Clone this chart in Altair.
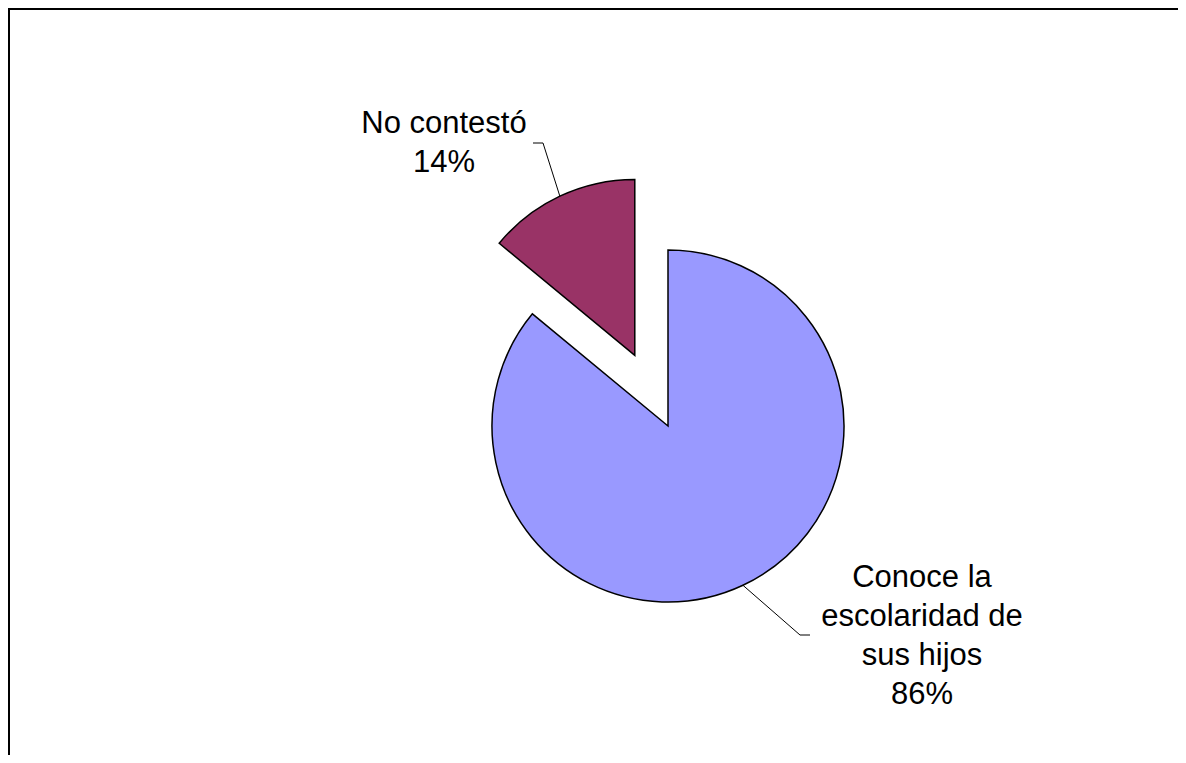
import math
import altair as alt
import pandas as pd

# ---- data ----
categories = ["Conoce la escolaridad de sus hijos", "No contestó"]
values = [86, 14]
label_lines = [["Conoce la", "escolaridad de", "sus hijos"], ["No contestó"]]
colors = ["#9999FF", "#993366"]

# ---- layout (styles / positions, not data) ----
W, H = 1170, 747
CX, CY, R = 660, 418, 176
EXPLODE = [0, 78]
LABEL_POS = [(914, 579), (436, 125)]
ELBOW = [(792, 627, 802), (535, 135, 525)]  # elbow x, y, end x
FONT = "Liberation Sans"

total = sum(values)
rows, lead_rows, lab_rows = [], [], []
acc = 0.0
for i, (cat, v) in enumerate(zip(categories, values)):
    t0 = acc / total * 2 * math.pi
    acc += v
    t1 = acc / total * 2 * math.pi
    mid = (t0 + t1) / 2
    cx = CX + EXPLODE[i] * math.sin(mid)
    cy = CY - EXPLODE[i] * math.cos(mid)
    pct = f"{round(v / total * 100)}%"
    rows.append({"category": cat, "value": v, "t0": t0, "t1": t1, "cx": cx, "cy": cy})
    sx = cx + R * math.sin(mid)
    sy = cy - R * math.cos(mid)
    ex, ey, endx = ELBOW[i]
    for k, (px, py) in enumerate([(sx, sy), (ex, ey), (endx, ey)]):
        lead_rows.append({"category": cat, "k": k, "px": px, "py": py})
    lab_rows.append({"category": cat, "lines": label_lines[i] + [pct],
                     "lx": LABEL_POS[i][0], "ly": LABEL_POS[i][1]})

df = pd.DataFrame(rows)
lead = pd.DataFrame(lead_rows)
labs = pd.DataFrame(lab_rows)

color = alt.Color("category:N", scale=alt.Scale(domain=categories, range=colors), legend=None)

pie = alt.Chart(df).mark_arc(radius=R, stroke="black", strokeWidth=1.5).encode(
    theta=alt.Theta("t0:Q", scale=None),
    theta2=alt.Theta2("t1:Q"),
    x=alt.X("cx:Q", scale=None, axis=None),
    y=alt.Y("cy:Q", scale=None, axis=None),
    color=color,
)

leaders = alt.Chart(lead).mark_line(color="black", strokeWidth=1).encode(
    x=alt.X("px:Q", scale=None, axis=None),
    y=alt.Y("py:Q", scale=None, axis=None),
    detail="category:N",
    order="k:Q",
)

text = alt.Chart(labs).mark_text(
    font=FONT, fontSize=31, lineHeight=39, align="center", baseline="alphabetic", color="black"
).encode(
    x=alt.X("lx:Q", scale=None, axis=None),
    y=alt.Y("ly:Q", scale=None, axis=None),
    text="lines",
)

frame_data = alt.Data(values=[{"a": 1}])
left_rule = alt.Chart(frame_data).mark_rule(color="black", strokeWidth=2).encode(
    x=alt.value(1), y=alt.value(0), y2=alt.value(H)
)
top_rule = alt.Chart(frame_data).mark_rule(color="black", strokeWidth=2).encode(
    x=alt.value(0), x2=alt.value(W), y=alt.value(1)
)

chart = alt.layer(pie, leaders, text, left_rule, top_rule).properties(
    width=W, height=H, padding=0, autosize=alt.AutoSizeParams(type="none")
).configure_view(stroke=None).configure(background="white")

chart.save("out.html", embed_options={"renderer": "svg", "actions": False})
